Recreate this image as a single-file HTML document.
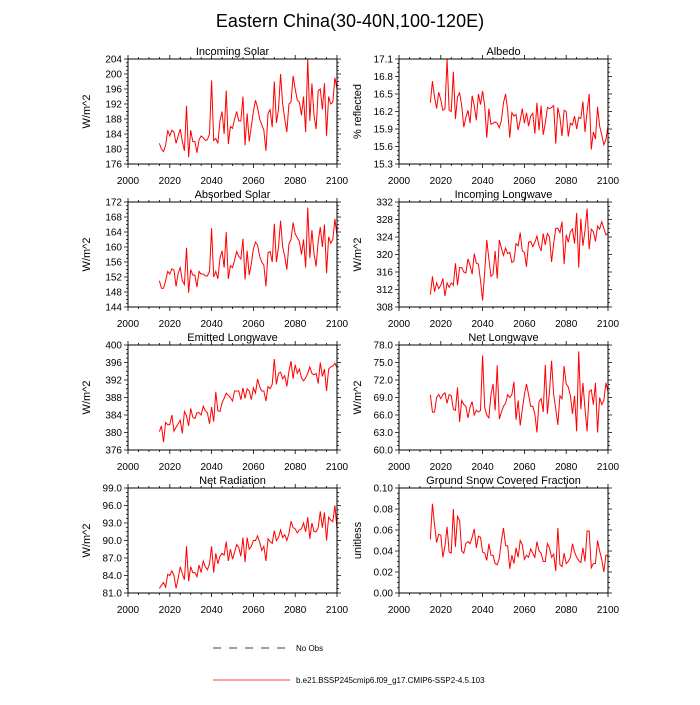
<!DOCTYPE html>
<html><head><meta charset="utf-8"><style>
body{margin:0;background:#fff}
svg text{font-family:"Liberation Sans",sans-serif;fill:#000}
</style></head><body>
<svg id="c" width="700" height="700" xmlns="http://www.w3.org/2000/svg">
<text x="350" y="27" text-anchor="middle" font-size="18">Eastern China(30-40N,100-120E)</text>
<line x1="213" y1="648" x2="290" y2="648" stroke="#000" stroke-width="0.8" stroke-dasharray="8,8"/>
<text x="296" y="651" font-size="8">No Obs</text>
<line x1="213" y1="680" x2="290" y2="680" stroke="#f00" stroke-width="0.8"/>
<text x="296" y="683" font-size="8">b.e21.BSSP245cmip6.f09_g17.CMIP6-SSP2-4.5.103</text>
</svg>
<script>
const startYear = 2015;
const xTicks = [2000,2020,2040,2060,2080,2100];
const incomingSolar = [181.5,180,179.3,181,185,183.5,185,184.5,181.5,183.5,185.3,182,179.5,191.5,177.8,185,182,182,179,182.5,183.5,183,182.3,182.5,184,198.3,182.3,182.8,181.5,187.5,190,184,195.6,181.3,186,185.5,188,190,187.5,187.5,194,181,189.5,182,186,190,193,191,188,186.5,185,179.5,189.5,190.5,185.8,198,187,190.5,200,192,188,184.5,192,192.5,199.5,196,193,192.5,189,194,184.5,204,187.5,197.5,189,185.3,195.5,196,190.5,197.5,183.5,194,192,192.5,199,196];
const albedo = [16.35,16.72,16.45,16.25,16.53,16.4,16.22,16.25,17.1,16.22,16.2,16.88,16.07,16.45,16.52,16.3,15.93,16.1,16.22,16.0,16.47,16.3,16.05,16.5,16.32,16.55,16.3,15.75,16.25,15.98,16.0,16.02,16.0,15.92,16.05,16.35,16.5,16.22,15.75,16.18,16.12,16.15,15.88,16.05,16.25,16.0,16.18,15.95,16.12,16.17,15.82,16.35,15.88,16.3,15.8,16.0,16.27,16.25,16.27,16.3,15.65,16.27,16.1,15.78,16.22,16.2,15.77,16.0,15.97,16.12,15.9,16.1,16.08,16.37,15.85,16.2,16.5,15.55,15.85,15.73,16.28,15.95,15.8,15.63,15.72,15.95];
const absorbedSolar = [151,149,149,151,153.5,152.8,154.2,153.8,149.5,153,154.5,151,150,159.8,147.8,154,152.5,152.5,149.3,153.5,152.8,152.8,152.3,152.3,153.5,165,152,153.5,151.5,157,159,154.5,164,151.5,155,154.5,156.5,158.8,157.5,156.8,162.2,151.3,159,152.5,155.5,159.5,161.3,160.5,157.5,156,155.2,149.5,158.5,158.8,156,166.2,156,160,167,160,157.5,154,160.8,162,166.5,163.5,162.5,161.5,158,162,154.5,170.5,157,164.5,158.2,154.8,161.5,165.3,160,166,153,162.7,161,162,167.5,163];
const incomingLW = [310.8,315,311.5,313.5,312.2,313,314.5,310.5,313.5,312.5,313.5,313,318,313,317,317,316,315.8,319,317.5,315.5,320.2,318,317.8,314,309.5,316,323.3,319,315,315.5,320.8,314.5,323.3,321.5,319.8,321.5,320.2,320.5,318.2,318.5,322.5,322,325,320.8,320.5,317.2,322.8,323,321.8,322.8,324.2,322,320.8,324.8,322.2,324.8,324,318.3,322.5,326,326,325,327.5,317.8,324.5,322.8,325.2,325.8,322.5,329.5,317,328.2,322,325.5,330.5,321.2,325.8,325.2,323,326.5,325.8,327.5,326,324.5,324.8];
const emittedLW = [380.2,381.5,377.8,382.3,381.8,381.8,384,380.3,381.2,382,382.8,379.8,384.8,383.8,381.5,385.5,383.5,383.2,384.5,384.5,384,386,385,384.5,382,385.8,382.5,389.3,385,384.8,386.8,387.8,389,388.5,388,387.2,389.5,389.5,389.5,387.5,390.2,387.8,390,389.5,387.5,390.2,389,392.2,390.5,389.5,389.5,387.2,390.5,390,391,396.8,391,393.5,393.8,392.3,393,390.5,394,396.3,392.3,395.5,393.5,394.5,392.5,391.8,392.5,393.5,395,393.5,393.2,393.5,391.2,396,392.8,394.5,389.5,394.5,395,395.2,395.8,394.8];
const netLW = [69.5,66.5,66.5,69,69.5,68.8,69.5,69.8,68,69.5,69.3,67,66.8,70.7,64.8,68.5,67.8,67.5,65.5,67.3,68.3,66,66.8,66.5,66.8,76.2,67.3,66,65.5,69.5,71.3,66.8,74.5,65.3,66.5,67.5,68,69.5,69,69.5,71.7,65.2,68.5,64.2,67,69.5,71.3,69.5,67.5,67.5,66.2,63,68.3,68.8,66.5,74.6,66.2,70,75.3,69.5,67,64.3,69.3,68.8,74.4,71.3,70.8,69.3,66.2,69.3,63.2,76.9,67,71.5,67,63.2,70,70.3,67.8,71.5,63,69,67.8,68.5,71.5,70];
const netRad = [81.8,82.3,82.8,82,84.2,84,84.8,84,81.8,83.5,85.5,84.3,83.3,89,83,85.5,84.5,84.5,83.8,85.8,84.5,86.5,85.5,85,86,89,84.5,87.8,86,87.3,87.8,87.5,89.8,86.5,88.5,86.8,88,89.3,88.8,87.3,90.5,86.3,90.5,88.5,89,90,90,90.8,89.7,88.3,89,86.5,90.3,89.8,89.5,91.7,90,90.5,91.8,90.5,91,90,91.2,93.3,92.2,92,91.3,91.8,92,93,91.5,94,90.3,93,91.5,91.5,92.2,95,92.2,94.8,90,94,93.5,93.2,96,92];
const snowFrac = [.051,.085,.065,.048,.056,.055,.034,.045,.063,.039,.038,.08,.044,.073,.069,.04,.038,.047,.049,.047,.053,.061,.043,.054,.053,.039,.038,.031,.047,.036,.036,.028,.027,.033,.05,.062,.045,.045,.023,.036,.028,.043,.034,.05,.046,.032,.036,.034,.042,.038,.034,.049,.04,.038,.03,.03,.047,.043,.034,.037,.021,.062,.027,.025,.038,.028,.03,.034,.047,.039,.034,.031,.029,.043,.03,.059,.059,.024,.028,.028,.05,.04,.032,.02,.036,.035];
const ticksIS = ["176","180","184","188","192","196","200","204"];
const ticksAlb = ["15.3","15.6","15.9","16.2","16.5","16.8","17.1"];
const ticksAS = ["144","148","152","156","160","164","168","172"];
const ticksILW = ["308","312","316","320","324","328","332"];
const ticksELW = ["376","380","384","388","392","396","400"];
const ticksNLW = ["60.0","63.0","66.0","69.0","72.0","75.0","78.0"];
const ticksNR = ["81.0","84.0","87.0","90.0","93.0","96.0","99.0"];
const ticksSnow = ["0.00","0.02","0.04","0.06","0.08","0.10"];

const NS="http://www.w3.org/2000/svg";
const svg=document.getElementById('c');
function mk(tag,attrs,parent){const e=document.createElementNS(NS,tag);for(const k in attrs)e.setAttribute(k,attrs[k]);(parent||svg).appendChild(e);return e;}
const panels=[
 {t:"Incoming Solar",u:"W/m^2",d:incomingSolar,tk:ticksIS,col:0,row:0,n:"incoming-solar"},
 {t:"Albedo",u:"% reflected",d:albedo,tk:ticksAlb,col:1,row:0,n:"albedo"},
 {t:"Absorbed Solar",u:"W/m^2",d:absorbedSolar,tk:ticksAS,col:0,row:1,n:"absorbed-solar"},
 {t:"Incoming Longwave",u:"W/m^2",d:incomingLW,tk:ticksILW,col:1,row:1,n:"incoming-longwave"},
 {t:"Emitted Longwave",u:"W/m^2",d:emittedLW,tk:ticksELW,col:0,row:2,n:"emitted-longwave"},
 {t:"Net Longwave",u:"W/m^2",d:netLW,tk:ticksNLW,col:1,row:2,n:"net-longwave"},
 {t:"Net Radiation",u:"W/m^2",d:netRad,tk:ticksNR,col:0,row:3,n:"net-radiation"},
 {t:"Ground Snow Covered Fraction",u:"unitless",d:snowFrac,tk:ticksSnow,col:1,row:3,n:"snow-fraction"}];
panels.forEach(p=>{
 const x0=p.col?399:128, x1=p.col?608:337, y0=59+143*p.row, y1=y0+105;
 const g=mk('g',{});
 
 
 const ymin=parseFloat(p.tk[0]), ymax=parseFloat(p.tk[p.tk.length-1]);
 const X=v=>x0+(v-2000)/100*(x1-x0);
 const Y=v=>y1-(v-ymin)/(ymax-ymin)*(y1-y0);
 const t=mk('text',{x:(x0+x1)/2,y:y0-4,'text-anchor':'middle','font-size':11},g);t.textContent=p.t;
 
 
 const yt=mk('text',{x:0,y:0,'text-anchor':'middle','font-size':11,transform:`translate(${x0-38},${(y0+y1)/2}) rotate(-90)`},g);yt.textContent=p.u;
 
 
 let path='';
 for(let yr=2000;yr<=2100;yr+=5){const x=X(yr),L=yr%20==0?4:2;path+=`M${x},${y1}v${L}M${x},${y0}v${-L}`;}
 const nInt=p.tk.length-1;
 for(let i=0;i<=nInt*4;i++){const v=ymin+(ymax-ymin)*i/(nInt*4),y=Y(v),L=i%4==0?4:2;path+=`M${x0},${y}h${-L}M${x1},${y}h${L}`;}
 const tp=mk('path',{d:path,stroke:'#000','stroke-width':0.8,fill:'none'},g);
 
 
 xTicks.forEach(yr=>{const e=mk('text',{x:X(yr),y:y1+20,'text-anchor':'middle','font-size':10},g);e.textContent=yr;
  
  });
 p.tk.forEach(s=>{const e=mk('text',{x:x0-6,y:Y(parseFloat(s))+3.5,'text-anchor':'end','font-size':10},g);e.textContent=s;
  
  });
 const pts=p.d.map((v,i)=>X(startYear+i).toFixed(2)+','+Y(v).toFixed(2)).join(' ');
 const ln=mk('polyline',{points:pts,fill:'none',stroke:'#f00','stroke-width':1},g);
 
 
 const fr=mk('rect',{x:x0,y:y0,width:x1-x0,height:y1-y0,fill:'none',stroke:'#000','stroke-width':1},g);
 
 
});
</script>
</body></html>
